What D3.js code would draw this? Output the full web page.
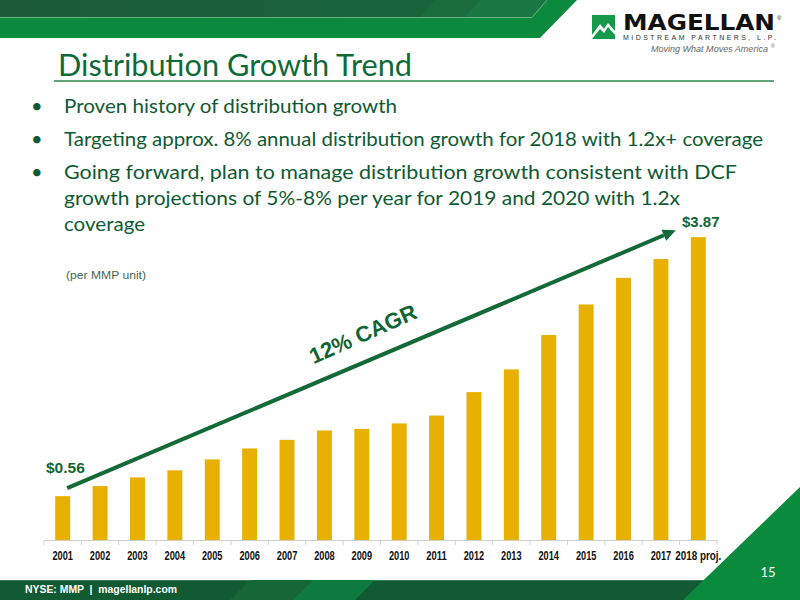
<!DOCTYPE html>
<html>
<head>
<meta charset="utf-8">
<script src="https://cdn.jsdelivr.net/npm/d3@7"></script>
<style>
  body { margin: 0; background: #fff; }
  svg { display: block; }
</style>
</head>
<body>
<div id="chart"></div>
<script>
// chart data
const years = ["2001", "2002", "2003", "2004", "2005", "2006", "2007", "2008", "2009",
  "2010", "2011", "2012", "2013", "2014", "2015", "2016", "2017", "2018 proj."];
const distributions = [0.56, 0.69, 0.80, 0.89, 1.03, 1.17, 1.28, 1.40, 1.42,
  1.49, 1.59, 1.89, 2.18, 2.62, 3.01, 3.35, 3.59, 3.87];
const bullets = [
  ["Proven history of distribution growth"],
  ["Targeting approx. 8% annual distribution growth for 2018 with 1.2x+ coverage"],
  ["Going forward, plan to manage distribution growth consistent with DCF",
   "growth projections of 5%-8% per year for 2019 and 2020 with 1.2x",
   "coverage"]
];
const firstLabel = "$0.56";
const lastLabel = "$3.87";
const cagrLabel = "12% CAGR";

// COLORS
const barColor = "#e8b000";
const darkGreen = "#0f6634";
const textGreen = "#0e5a33";

const width = 800, height = 600;
const svg = d3.select("#chart").append("svg")
  .attr("width", width).attr("height", height);

// header bands
const defs = svg.append("defs");
const grad = defs.append("linearGradient").attr("id", "topband");
grad.append("stop").attr("offset", "0%").attr("stop-color", "#1b5a37");
grad.append("stop").attr("offset", "100%").attr("stop-color", "#17683c");

const line = d3.line();
svg.append("path").attr("d", line([[0, 0], [577, 0], [540, 38], [0, 38]]) + "Z")
  .attr("fill", "#0b8a3d");
svg.append("path").attr("d", line([[0, 0], [547, 0], [532, 17], [0, 17]]) + "Z")
  .attr("fill", "url(#topband)");
svg.append("path").attr("d", line([[420, 17], [435, 0], [480, 0], [465, 17]]) + "Z")
  .attr("fill", "#1c6e40").attr("opacity", 0.7);
svg.append("path").attr("d", line([[465, 17], [480, 0], [547, 0], [532, 17]]) + "Z")
  .attr("fill", "#1a7843");
svg.append("path").attr("d", line([[0, 17.5], [532, 17.5], [547, 0]]))
  .attr("fill", "none").attr("stroke", "#7fbf93").attr("stroke-width", 0.8);

// logo
svg.append("rect").attr("x", 592).attr("y", 15).attr("width", 23).attr("height", 24)
  .attr("fill", "#17994a");
svg.append("path")
  .attr("d", line([[592, 35], [600, 24], [604, 29], [608, 23], [615, 31], [615, 35],
    [608, 27], [604, 33], [600, 29], [592, 39]]) + "Z")
  .attr("fill", "#fff");
svg.append("text").attr("x", 623).attr("y", 30)
  .attr("font-family", "DejaVu Sans").attr("font-weight", "bold")
  .attr("font-size", 21).attr("textLength", 152).attr("lengthAdjust", "spacingAndGlyphs")
  .attr("fill", "#111").text("MAGELLAN");
svg.append("text").attr("x", 777).attr("y", 20)
  .attr("font-family", "Liberation Sans").attr("font-size", 6).attr("fill", "#111").text("®");
svg.append("text").attr("x", 623).attr("y", 39.5)
  .attr("font-family", "Liberation Sans").attr("font-size", 7)
  .attr("textLength", 153).attr("lengthAdjust", "spacing")
  .attr("fill", "#333").text("MIDSTREAM PARTNERS, L.P.");

// motto: size the font so it fits its width, then place the ® after it
const motto = svg.append("text").attr("x", 651).attr("y", 52)
  .attr("font-family", "Liberation Sans").attr("font-style", "italic")
  .attr("font-size", 10).attr("fill", "#666").text("Moving What Moves America");
const mottoW = 117;
const natural = motto.node().getComputedTextLength();
motto.attr("font-size", 10 * mottoW / natural);
svg.append("text").attr("x", 651 + mottoW + 3).attr("y", 47.5)
  .attr("font-family", "Liberation Sans").attr("font-size", 5).attr("fill", "#666").text("®");

// title
svg.append("text").attr("x", 58).attr("y", 76)
  .attr("font-family", "Lato").attr("font-size", 30)
  .attr("textLength", 354).attr("lengthAdjust", "spacingAndGlyphs")
  .attr("fill", "#0e6b38").text("Distribution Growth Trend");
svg.append("line").attr("x1", 54).attr("x2", 774).attr("y1", 81).attr("y2", 81)
  .attr("stroke", "#2a8a48").attr("stroke-width", 1.5);

// bullets
const lineWidths = [[333], [699], [673, 616, 81]];
const baselines = [[113], [146], [179, 205, 231]];
bullets.forEach((b, i) => {
  svg.append("text").attr("x", 31).attr("y", baselines[i][0])
    .attr("font-family", "Lato").attr("font-size", 20).attr("fill", textGreen).text("•");
  b.forEach((t, j) => {
    svg.append("text").attr("x", 64).attr("y", baselines[i][j])
      .attr("font-family", "Lato").attr("font-size", 20)
      .attr("textLength", lineWidths[i][j]).attr("lengthAdjust", "spacingAndGlyphs")
      .attr("fill", textGreen).text(t);
  });
});

svg.append("text").attr("x", 66).attr("y", 279)
  .attr("font-family", "Liberation Sans").attr("font-size", 11)
  .attr("textLength", 80).attr("lengthAdjust", "spacingAndGlyphs")
  .attr("fill", "#4a6655").text("(per MMP unit)");

// scales
const x = d3.scaleBand().domain(years).range([44, 717])
  .paddingInner(0.6).paddingOuter(0.3);
const y = d3.scaleLinear().domain([0, 4]).range([540, 227]);

// bars
svg.append("g").selectAll("rect").data(distributions).join("rect")
  .attr("x", (d, i) => x(years[i]))
  .attr("width", x.bandwidth())
  .attr("y", d => y(d))
  .attr("height", d => y(0) - y(d))
  .attr("fill", barColor);

// x axis
const axis = svg.append("g").attr("transform", `translate(0,${y(0)})`)
  .call(d3.axisBottom(x).tickSize(0).tickPadding(11));
axis.select(".domain").attr("stroke", "#d0d0d0");
axis.selectAll("text")
  .attr("font-family", "Liberation Sans")
  .attr("font-weight", "bold").attr("font-size", 12).attr("fill", "#111")
  .attr("textLength", d => d.length > 4 ? 46 : 20.5)
  .attr("lengthAdjust", "spacingAndGlyphs");
const step = x.step();
const bounds = years.map((d, i) => i === 0 ? 44 : x(d) - step * x.paddingInner() / 2).concat([717]);
axis.selectAll(".sep").data(bounds).join("line").attr("class", "sep")
  .attr("x1", d => d).attr("x2", d => d).attr("y1", 0).attr("y2", 5)
  .attr("stroke", "#d0d0d0");

// CAGR arrow
const n = years.length - 1;
const x0 = x(years[0]) + x.bandwidth() * 0.8, y0 = y(distributions[0]) - 8;
const x1 = x(years[n]) - 15, y1 = y(distributions[n]) - 7;
const ang = Math.atan2(y1 - y0, x1 - x0);
const headLen = 13, headW = 6;
const bx = x1 - headLen * Math.cos(ang), by = y1 - headLen * Math.sin(ang);
svg.append("line").attr("x1", x0).attr("y1", y0).attr("x2", bx).attr("y2", by)
  .attr("stroke", "#136a37").attr("stroke-width", 4);
svg.append("path")
  .attr("d", line([[x1, y1],
    [bx + headW * Math.sin(ang), by - headW * Math.cos(ang)],
    [bx - headW * Math.sin(ang), by + headW * Math.cos(ang)]]) + "Z")
  .attr("fill", "#136a37");

svg.append("text")
  .attr("transform", `translate(366,341) rotate(${ang * 180 / Math.PI - 1})`)
  .attr("text-anchor", "middle")
  .attr("font-family", "Liberation Sans").attr("font-weight", "bold").attr("font-size", 22)
  .attr("fill", darkGreen).text(cagrLabel);

// end labels
svg.append("text").attr("x", 46).attr("y", 473)
  .attr("font-family", "Liberation Sans").attr("font-weight", "bold").attr("font-size", 15.5)
  .attr("fill", darkGreen).text(firstLabel);
svg.append("text").attr("x", 682).attr("y", 227)
  .attr("font-family", "Liberation Sans").attr("font-weight", "bold").attr("font-size", 15)
  .attr("fill", darkGreen).text(lastLabel);

// footer
svg.append("rect").attr("x", 0).attr("y", 580).attr("width", 800).attr("height", 20)
  .attr("fill", "#115a34");
svg.append("line").attr("x1", 0).attr("x2", 800).attr("y1", 580.5).attr("y2", 580.5)
  .attr("stroke", "#3f7a58").attr("stroke-width", 1);
svg.append("path").attr("d", line([[230, 600], [250, 580], [313, 580], [293, 600]]) + "Z")
  .attr("fill", "#17663a");
svg.append("path").attr("d", line([[293, 600], [313, 580], [375, 580], [355, 600]]) + "Z")
  .attr("fill", "#0f7a40");
svg.append("path").attr("d", line([[800, 487], [800, 600], [683, 600]]) + "Z")
  .attr("fill", "#0a8a3c");
svg.append("text").attr("x", 25).attr("y", 593)
  .attr("font-family", "Liberation Sans").attr("font-weight", "bold").attr("font-size", 10.5)
  .attr("textLength", 152).attr("lengthAdjust", "spacingAndGlyphs")
  .attr("fill", "#fff").attr("xml:space", "preserve").text("NYSE: MMP  |  magellanlp.com");
svg.append("text").attr("x", 768).attr("y", 577).attr("text-anchor", "middle")
  .attr("font-family", "Lato").attr("font-size", 13).attr("fill", "#fff").text("15");
</script>
</body>
</html>
